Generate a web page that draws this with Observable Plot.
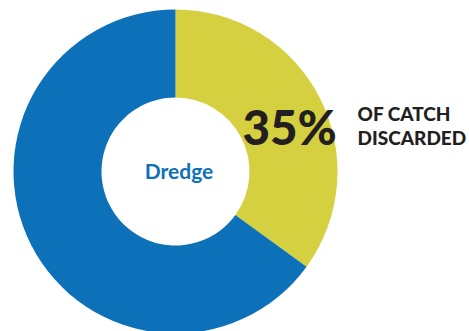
<!DOCTYPE html>
<html>
<head>
<meta charset="utf-8">
<script src="https://cdn.jsdelivr.net/npm/d3@7"></script>
<script src="https://cdn.jsdelivr.net/npm/@observablehq/plot@0.6"></script>
<style>
  html, body { margin: 0; padding: 0; background: #fff; }
  svg { display: block; }
</style>
</head>
<body>
<div id="chart"></div>
<script>
const categories = ["Discarded", "Retained"];
const shares = [35, 65];
const colors = ["#d5d03f", "#0c71b8"];
const centerLabel = "Dredge";
const bigLabel = "35%";
const sideLabel = "OF CATCH\nDISCARDED";

const table = categories.map((c, i) => ({category: c, value: shares[i]}));

const cx = 175.5, cy = 171.5, outerR = 162, innerR = 74;

function donut(index, scales) {
  const ns = "http://www.w3.org/2000/svg";
  const g = document.createElementNS(ns, "g");
  const x0 = scales.x(cx), y0 = scales.y(cy);
  const ro = scales.x(outerR) - scales.x(0);
  const ri = scales.x(innerR) - scales.x(0);
  const arcs = d3.pie().sort(null).value(d => d.value)(table);
  const arc = d3.arc().innerRadius(ri).outerRadius(ro);
  for (const a of arcs) {
    const p = document.createElementNS(ns, "path");
    p.setAttribute("d", arc(a));
    p.setAttribute("fill", scales.color(a.data.category));
    p.setAttribute("transform", `translate(${x0},${y0})`);
    g.appendChild(p);
  }
  return g;
}

const chart = Plot.plot({
  width: 469,
  height: 331,
  margin: 0,
  style: {fontFamily: "Lato, sans-serif", background: "#fff"},
  x: {domain: [0, 469], range: [0, 469], axis: null},
  y: {domain: [0, 331], range: [0, 331], axis: null},
  color: {domain: categories, range: colors},
  marks: [
    donut,
    Plot.text([centerLabel], {x: 178.5, y: 178.7, text: d => d, textAnchor: "middle", lineAnchor: "bottom",
      fontSize: 21, fontWeight: 700, fill: colors[1]}),
    Plot.text([bigLabel], {x: 242, y: 144.5, text: d => d, textAnchor: "start", lineAnchor: "bottom",
      fontSize: 47.5, fontWeight: 900, fill: "#231f20"}),
    Plot.text([sideLabel], {x: 357, y: 144.7, text: d => d, textAnchor: "start", lineAnchor: "bottom",
      fontSize: 19, fontWeight: 900, lineHeight: 1.26, fill: "#231f20"})
  ]
});
document.getElementById("chart").appendChild(chart);
</script>
</body>
</html>
